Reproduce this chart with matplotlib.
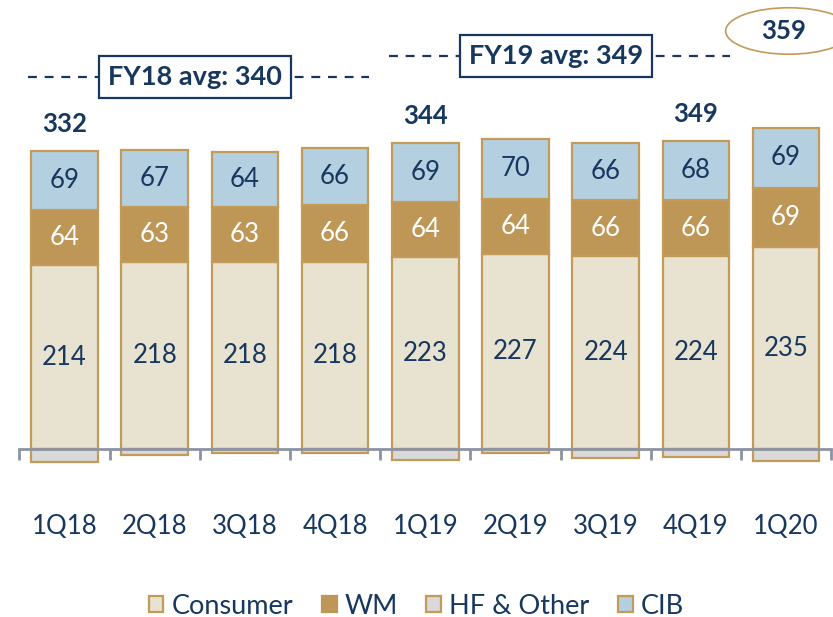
import matplotlib.pyplot as plt
import numpy as np
from matplotlib.patches import Ellipse, Patch

plt.rcParams['font.family'] = ['Lato', 'DejaVu Sans']

#
### data
#
quarters = ['1Q18', '2Q18', '3Q18', '4Q18', '1Q19', '2Q19', '3Q19', '4Q19', '1Q20']
consumer = [214, 218, 218, 218, 223, 227, 224, 224, 235]
wm = [64, 63, 63, 66, 64, 64, 66, 66, 69]
cib = [69, 67, 64, 66, 69, 70, 66, 68, 69]
hf_other = [-15, -7, -4, -4, -12, -5, -10, -9, -14]
totals = [332, None, None, None, 344, None, None, 349, 359]

fy_labels = ['FY18 avg: 340', 'FY19 avg: 349']
fy_groups = [(0, 3), (4, 7)]

navy = '#17375E'
gold = '#C39A58'
c_consumer = '#E8E2D0'
c_wm = '#BE9655'
c_cib = '#B3CFE0'
c_hf = '#D9D9D9'

x = np.arange(len(quarters))
consumer = np.array(consumer)
wm = np.array(wm)
cib = np.array(cib)
hf_other = np.array(hf_other)
width = 0.74

fig = plt.figure(figsize=(8.33, 6.17), dpi=100)
ax = fig.add_axes([0, 0, 1, 1])

kw = dict(width=width, edgecolor=gold, linewidth=1.6, zorder=1)
ax.bar(x, consumer, color=c_consumer, **kw)
ax.bar(x, wm, bottom=consumer, color=c_wm, **kw)
ax.bar(x, cib, bottom=consumer + wm, color=c_cib, **kw)
ax.bar(x, hf_other, color=c_hf, **kw)

# segment labels
for i in x:
    ax.text(i, consumer[i] / 2, str(consumer[i]), ha='center', va='center', fontsize=18.5, color=navy)
    ax.text(i, consumer[i] + wm[i] / 2, str(wm[i]), ha='center', va='center', fontsize=18.5, color='white')
    ax.text(i, consumer[i] + wm[i] + cib[i] / 2, str(cib[i]), ha='center', va='center', fontsize=18.5, color=navy)

# totals above bars (last one sits in an ellipse at the top)
for i, t in enumerate(totals):
    if t is None:
        continue
    top = consumer[i] + wm[i] + cib[i]
    if i == len(totals) - 1:
        ax.add_patch(Ellipse((i + 0.03, 486), 1.4, 54, facecolor='white', edgecolor=gold, linewidth=1.2, clip_on=False))
        ax.text(i - 0.03, 486, str(t), ha='center', va='center', fontsize=18.5, fontweight='bold', color=navy)
    else:
        ax.text(i, top + 31, str(t), ha='center', va='center', fontsize=18.5, fontweight='bold', color=navy)

# FY average dashed lines with boxes
fy_y = [433, 457]
for (a, b), lab, yy in zip(fy_groups, fy_labels, fy_y):
    ax.plot([a - 0.4, b + 0.38], [yy, yy], ls=(0, (4, 3.5)), color=navy, lw=1.6, zorder=3)
    ax.text((a + b) / 2 - 0.05, yy, lab, ha='center', va='center', fontsize=19.5, fontweight='bold', color=navy,
            zorder=4, bbox=dict(boxstyle='square,pad=0.33', facecolor='white', edgecolor=navy, linewidth=1.6))

# axis
ax.set_xlim(-0.715, 8.52)
ax.set_ylim(-195, 522)
for s in ['top', 'left', 'right']:
    ax.spines[s].set_visible(False)
ax.spines['bottom'].set_position(('data', 0))
ax.spines['bottom'].set_bounds(-0.5, len(quarters) - 0.5)
ax.spines['bottom'].set_color('#8D93A3')
ax.spines['bottom'].set_linewidth(2)
ax.set_yticks([])
ax.set_xticks(x)
ax.set_xticklabels(quarters, fontsize=18.5, color=navy)
ax.tick_params(axis='x', which='major', length=0, pad=47)
ax.set_xticks(np.arange(len(quarters) + 1) - 0.5, minor=True)
ax.tick_params(axis='x', which='minor', length=8, width=2, color='#8D93A3', direction='out')

handles = [Patch(facecolor=c_consumer, edgecolor=gold, linewidth=1.6),
           Patch(facecolor=c_wm, edgecolor=c_wm, linewidth=1.6),
           Patch(facecolor=c_hf, edgecolor=gold, linewidth=1.6),
           Patch(facecolor=c_cib, edgecolor=gold, linewidth=1.6)]
fig.legend(handles, ['Consumer', 'WM', 'HF & Other', 'CIB'], loc='center', bbox_to_anchor=(0.5, 1 - 606 / 617),
           ncol=4, frameon=False, fontsize=19.5, handlelength=0.55, handleheight=0.55, handletextpad=0.3,
           columnspacing=1.05, labelcolor=navy)

fig.savefig('out.png', dpi=100)
